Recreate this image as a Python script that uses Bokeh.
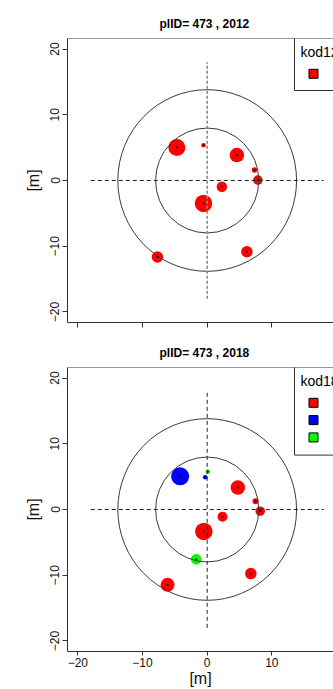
import numpy as np
from bokeh.plotting import figure
from bokeh.layouts import column
from bokeh.models import Range1d, FixedTicker, Span, Label, ColumnDataSource
from bokeh.core.properties import value
from bokeh.embed import file_html
from bokeh.resources import INLINE

FONT = "Liberation Sans"

plot_id = 473
years = [2012, 2018]

# species codes / legend
species = ["SO", "BRZ", "DB"]
species_colors = {"SO": "#FF0000", "BRZ": "#0000FF", "DB": "#00FF00"}

# plot rings (m)
ring_radii = [7.98, 13.82]
cross_half = 18
axis_ticks = [-20, -10, 0, 10, 20]

# 2012 survey
x12 = [-4.69, -0.57, 4.59, 7.31, 7.84, 2.27, -0.57, -7.69, 6.14]
y12 = [5.03, 5.38, 3.86, 1.58, 0.06, -0.96, -3.48, -11.64, -10.84]
dbh12 = [34, 9, 29, 11, 19, 21, 35, 23, 23]
sp12 = ["SO", "SO", "SO", "SO", "SO", "SO", "SO", "SO", "SO"]

# 2018 survey
x18 = [-4.18, -0.31, 0.10, 4.74, 7.47, 8.20, 2.37, -0.52, -1.70, -6.13, 6.75]
y18 = [5.05, 4.90, 5.76, 3.33, 1.26, -0.25, -1.11, -3.33, -7.58, -11.46, -9.75]
dbh18 = [36, 9, 9, 29, 12, 19, 20, 35, 21, 28, 23]
sp18 = ["BRZ", "BRZ", "DB", "SO", "SO", "SO", "SO", "SO", "DB", "SO", "SO"]

# layout constants
FW, FH = 266, 284
BL = 67
XMIN, YMIN, YMAX = -21.6, -21.6, 21.6
PPX = 6.467
XMAX = XMIN + FW / PPX
PPY = FH / (YMAX - YMIN)
SIZE_PER_CM = 0.5


def dx(px):
    return XMIN + px / PPX


def dy(px):
    return YMAX - px / PPY


def make_panel(year, xs, ys, dbh, sp, bt, bb, bottom_labels, vline_style, legend_cfg):
    p = figure(width=BL + FW, height=bt + FH + bb,
               x_range=Range1d(XMIN, XMAX), y_range=Range1d(YMIN, YMAX),
               output_backend="svg", toolbar_location=None,
               min_border_left=BL, min_border_right=0, min_border_top=bt,
               min_border_bottom=bb,
               background_fill_color="white", border_fill_color="white")
    p.outline_line_color = None
    p.xgrid.visible = False
    p.ygrid.visible = False

    p.title.text = f"plID= {plot_id} , {year}"
    p.title.align = "left"
    p.title.offset = 92
    p.title.text_font = FONT
    p.title.text_font_size = "12px"
    p.title.text_font_style = "bold"
    p.title.text_color = "black"
    try:
        p.title.standoff = 16
    except AttributeError:
        pass

    for ax in (p.xaxis[0], p.yaxis[0]):
        ax.ticker = FixedTicker(ticks=axis_ticks)
        ax.minor_tick_line_color = None
        ax.major_tick_in = 0
        ax.major_tick_out = 5
        ax.axis_line_color = "#333333"
        ax.major_tick_line_color = "#333333"
        ax.major_label_text_font = FONT
        ax.major_label_text_font_size = "12px"
        ax.major_label_text_color = "#111111"
        ax.axis_label_text_font = FONT
        ax.axis_label_text_font_size = "16px"
        ax.axis_label_text_font_style = "normal"
        ax.axis_label_text_color = "#111111"

    p.yaxis.major_label_orientation = "vertical"
    p.yaxis.major_label_standoff = 3
    p.yaxis.axis_label = "[m]"
    p.yaxis.axis_label_standoff = 6

    if bottom_labels:
        p.xaxis.major_tick_out = 4
        p.xaxis.major_label_standoff = 2
        p.xaxis.axis_label = "[m]"
        p.xaxis.axis_label_standoff = 0
        p.add_layout(Label(x=20, y=-6, x_units="data", y_units="screen", text="20",
                           text_align="center", text_baseline="top",
                           text_font=FONT, text_font_size="12px", text_color="#111111"))
    else:
        p.xaxis.major_label_text_color = None
        p.xaxis.major_label_text_font_size = "0px"
        p.xaxis.major_label_standoff = 0

    # top border of the box
    p.add_layout(Span(location=YMAX, dimension="width", line_color="#333333", line_width=1))

    # trees
    src = ColumnDataSource(dict(x=xs, y=ys, size=[d * SIZE_PER_CM for d in dbh],
                                color=[species_colors[s] for s in sp]))
    p.scatter("x", "y", size="size", fill_color="color", line_color=None, source=src)

    # rings
    for r in ring_radii:
        p.ellipse(x=0, y=0, width=2 * r, height=2 * r, fill_color=None,
                  line_color="#3a3a3a", line_width=1)
    # cross
    p.line([-cross_half, cross_half], [0, 0], line_color="#222222", line_width=1, line_dash="4 3")
    p.line([0, 0], [-cross_half, cross_half], **vline_style)

    # tree centres
    p.scatter("x", "y", size=1.8, marker="square", fill_color="black", line_color=None, source=src)

    # legend (drawn like R's legend, cut by the right edge)
    title, entries, bottom_px = legend_cfg
    p.quad(left=dx(227), right=XMAX + 5, top=YMAX + 1, bottom=dy(bottom_px),
           fill_color="white", line_color="#333333", line_width=1)
    p.text(x=[dx(233)], y=[dy(13)], text=[title], text_font=value(FONT),
           text_font_size="14px", text_baseline="middle", text_align="left", text_color="black")
    ky = [dy(35.3 + 17.3 * i) for i in range(len(entries))]
    p.scatter(x=[dx(246)] * len(entries), y=ky, marker="square", size=9,
              fill_color=[species_colors[s] for s in entries], line_color="black", line_width=1)
    p.text(x=[dx(265)] * len(entries), y=ky, text=entries, text_font=value(FONT),
           text_font_size="14px", text_baseline="middle", text_align="left", text_color="#E39B3A")
    return p


p1 = make_panel(years[0], x12, y12, dbh12, sp12, 38, 7, False,
                dict(line_color="#8a8a8a", line_width=1.6, line_dash="3 2"),
                ("kod12", ["SO"], 52))
p2 = make_panel(years[1], x18, y18, dbh18, sp18, 38, 38, True,
                dict(line_color="#222222", line_width=1, line_dash="4 3"),
                ("kod18", ["SO", "BRZ", "DB"], 87.6))

layout = column(p1, p2, spacing=0)
open("out.html", "w").write(file_html(layout, INLINE))
